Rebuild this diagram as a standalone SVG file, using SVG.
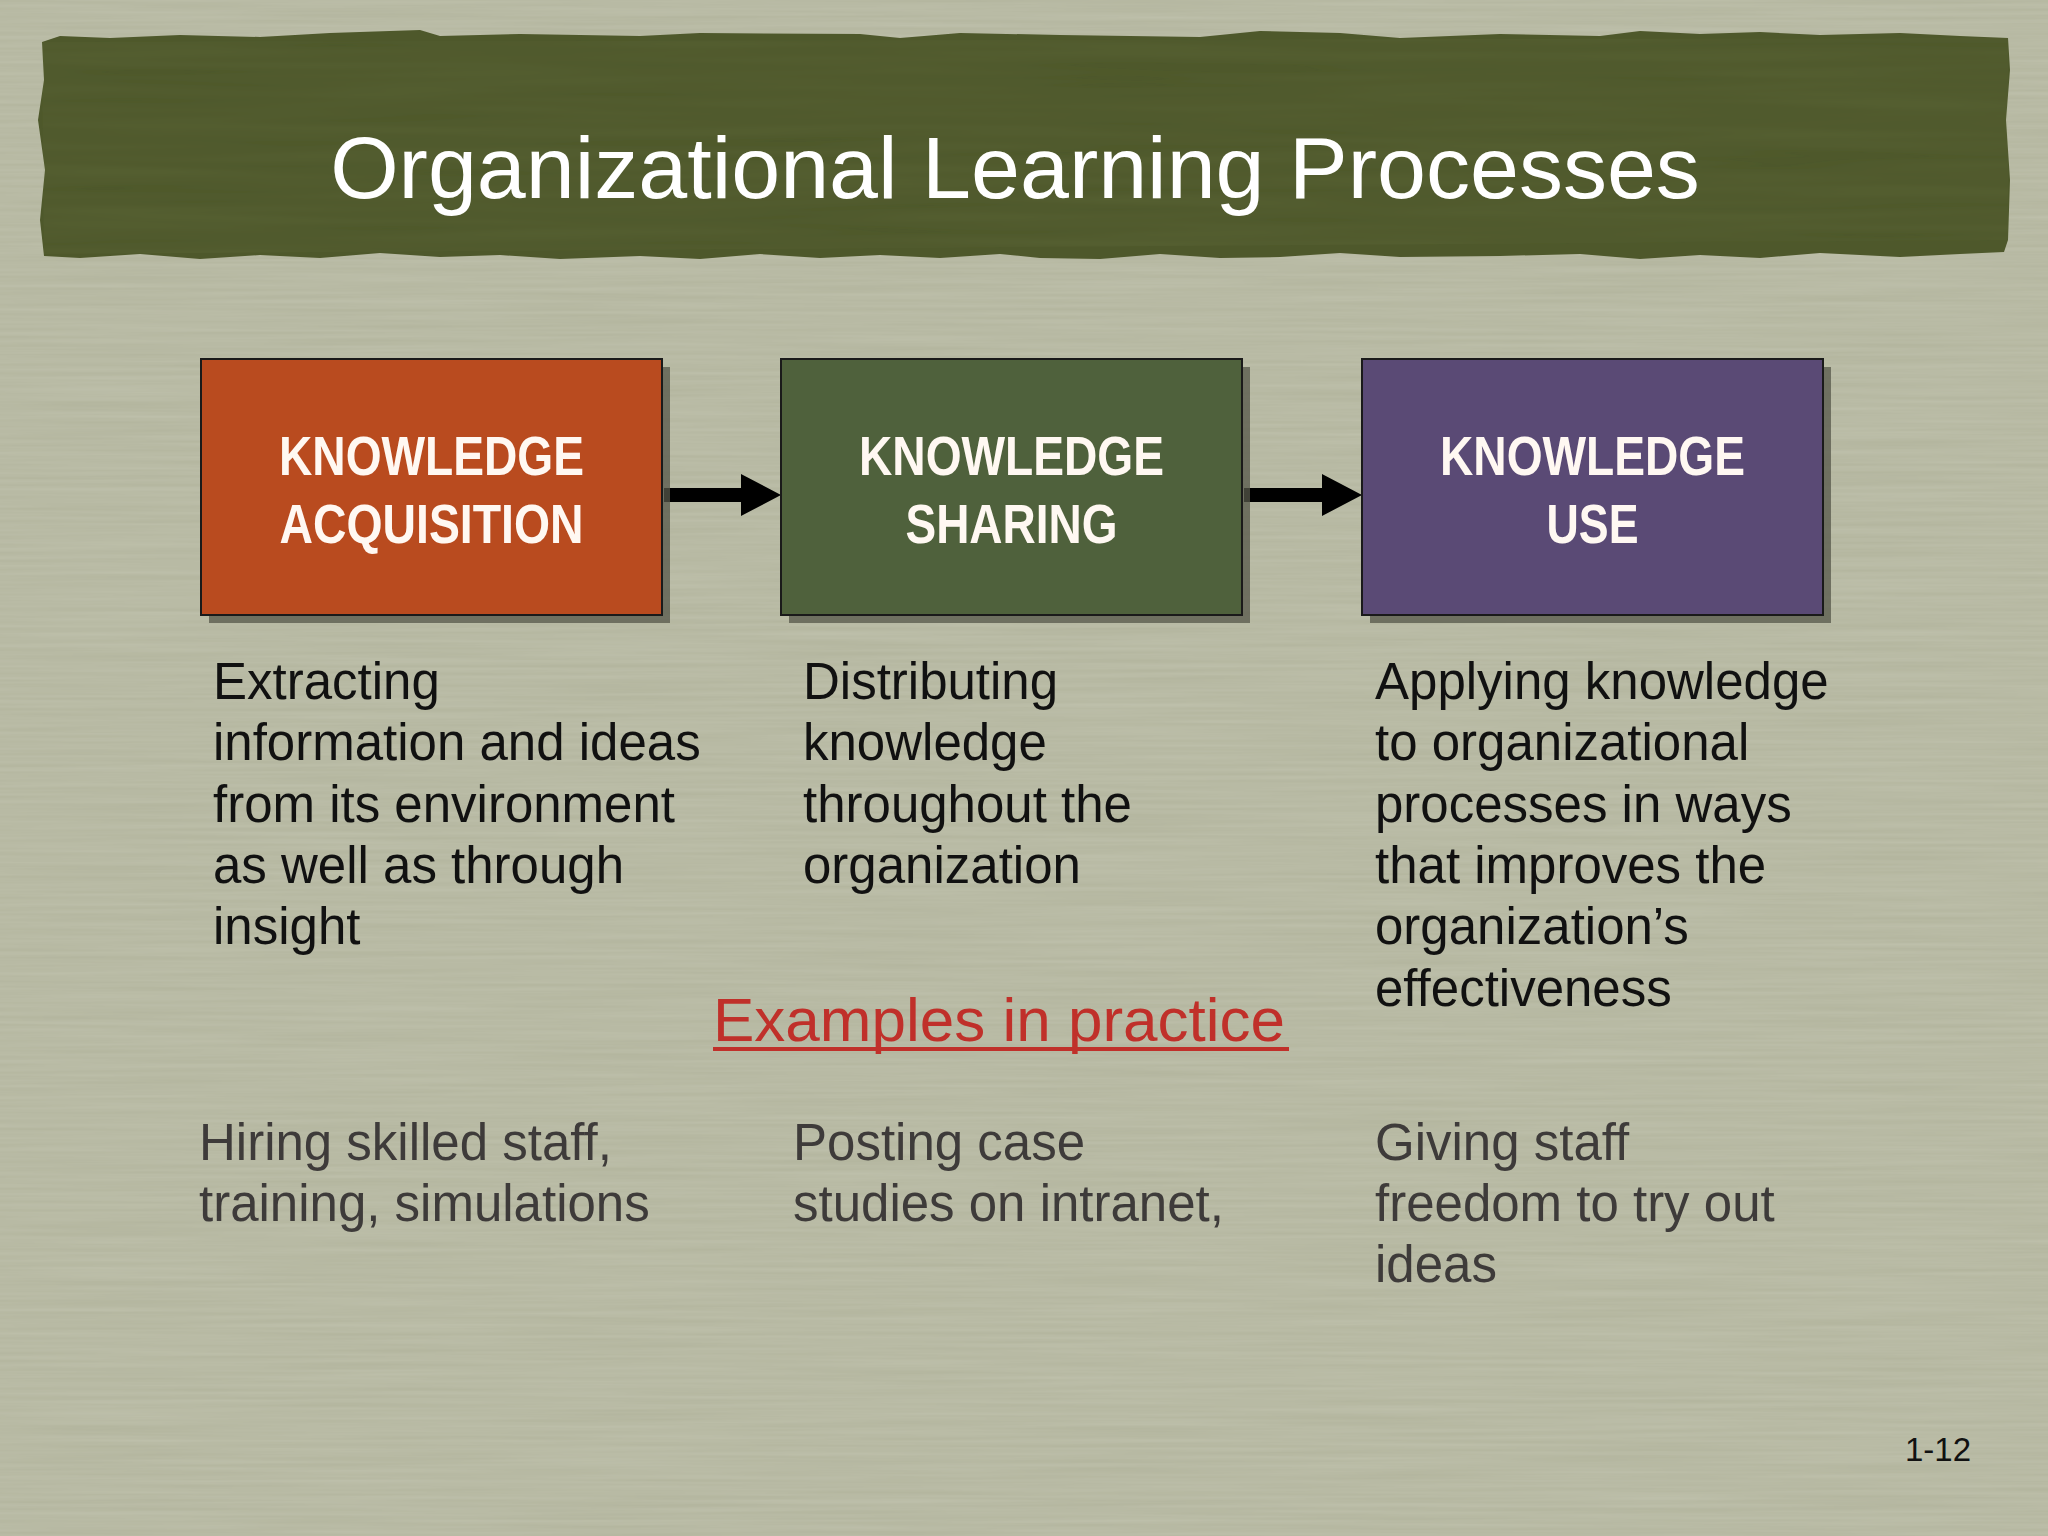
<svg xmlns="http://www.w3.org/2000/svg" width="2048" height="1536" viewBox="0 0 2048 1536">
  <defs>
    <filter id="paper" x="0" y="0" width="100%" height="100%">
      <feTurbulence type="fractalNoise" baseFrequency="0.004 0.25" numOctaves="3" seed="7" result="n"/>
      <feColorMatrix in="n" type="matrix" values="0 0 0 0 0.95  0 0 0 0 0.96  0 0 0 0 0.9  0 0 0 0.18 -0.03"/>
    </filter>
    <filter id="bannerTex" x="0" y="0" width="100%" height="100%">
      <feTurbulence type="fractalNoise" baseFrequency="0.003 0.08" numOctaves="2" seed="3" result="n"/>
      <feColorMatrix in="n" type="matrix" values="0 0 0 0 0.25  0 0 0 0 0.3  0 0 0 0 0.12  0 0 0 0.15 -0.03" result="c"/>
      <feComposite in="c" in2="SourceGraphic" operator="in"/>
    </filter>
    <style>
      .box { stroke: #1a1a1a; stroke-width: 2; }
      .shadow { fill: #55574a; opacity: 0.75; }
      .boxlabel { font-family: "Liberation Sans", Arial, sans-serif; font-weight: bold; font-size: 56px; fill: #FFF8F2; text-anchor: middle; }
      .desc { font-family: "Liberation Sans", Arial, sans-serif; font-size: 51px; fill: #111111; }
      .ex { font-family: "Liberation Sans", Arial, sans-serif; font-size: 51px; fill: #3e3b3a; }
      .arrow { fill: #000000; }
    </style>
  </defs>

  <!-- background -->
  <rect x="0" y="0" width="2048" height="1536" fill="#b4b69f"/>
  <rect x="0" y="0" width="2048" height="1536" filter="url(#paper)"/>

  <!-- title banner -->
  <g id="banner">
    <path id="bannerShape" fill="#4e582b" d="M42,42 L60,36 L110,38 L180,35 L260,37 L330,33 L420,30 L440,36 L520,34 L640,36 L700,33 L860,34 L900,38 L960,33 L1060,35 L1200,37 L1260,31 L1340,33 L1400,38 L1500,34 L1600,36 L1640,31 L1700,34 L1760,32 L1820,35 L1900,33 L1960,36 L2008,38 L2010,70 L2006,120 L2010,180 L2008,240 L2004,252 L1960,254 L1900,257 L1820,253 L1760,258 L1700,255 L1640,259 L1580,254 L1500,256 L1400,257 L1340,253 L1280,257 L1220,258 L1160,254 L1100,259 L1040,258 L1000,254 L940,258 L880,255 L820,258 L760,254 L700,259 L640,256 L560,259 L500,255 L440,257 L380,253 L320,258 L260,255 L200,259 L140,254 L80,258 L44,256 L40,220 L45,170 L38,120 L44,80 Z"/>
    <path fill="#4e582b" filter="url(#bannerTex)" d="M42,42 L2008,38 L2008,240 L44,254 Z"/>
    <text x="1015" y="198" font-family="Liberation Sans, Arial, sans-serif" font-size="88" fill="#ffffff" text-anchor="middle">Organizational Learning Processes</text>
  </g>

  <!-- connectors -->
  <g id="connectors">
    <path class="arrow" d="M664,488 L741,488 L741,474 L781,495 L741,516 L741,502 L664,502 Z"/>
    <path class="arrow" d="M1244,488 L1322,488 L1322,474 L1362,495 L1322,516 L1322,502 L1244,502 Z"/>
  </g>

  <!-- nodes -->
  <g id="node-acquisition">
    <rect class="shadow" x="209" y="367" width="461" height="256"/>
    <rect class="box" x="201" y="359" width="461" height="256" fill="#b94b1f"/>
    <text class="boxlabel" x="431.5" y="475" textLength="305" lengthAdjust="spacingAndGlyphs">KNOWLEDGE</text>
    <text class="boxlabel" x="431.5" y="543" textLength="304" lengthAdjust="spacingAndGlyphs">ACQUISITION</text>
  </g>

  <g id="node-sharing">
    <rect class="shadow" x="789" y="367" width="461" height="256"/>
    <rect class="box" x="781" y="359" width="461" height="256" fill="#4f613c"/>
    <text class="boxlabel" x="1011.5" y="475" textLength="305" lengthAdjust="spacingAndGlyphs">KNOWLEDGE</text>
    <text class="boxlabel" x="1011.5" y="543" textLength="212" lengthAdjust="spacingAndGlyphs">SHARING</text>
  </g>

  <g id="node-use">
    <rect class="shadow" x="1370" y="367" width="461" height="256"/>
    <rect class="box" x="1362" y="359" width="461" height="256" fill="#5a4a75"/>
    <text class="boxlabel" x="1592.5" y="475" textLength="305" lengthAdjust="spacingAndGlyphs">KNOWLEDGE</text>
    <text class="boxlabel" x="1592.5" y="543" textLength="92" lengthAdjust="spacingAndGlyphs">USE</text>
  </g>

  <!-- descriptions -->
  <g id="desc-acquisition">
    <text class="desc" x="213" y="699">Extracting</text>
    <text class="desc" x="213" y="760">information and ideas</text>
    <text class="desc" x="213" y="822">from its environment</text>
    <text class="desc" x="213" y="883">as well as through</text>
    <text class="desc" x="213" y="944">insight</text>
  </g>
  <g id="desc-sharing">
    <text class="desc" x="803" y="699">Distributing</text>
    <text class="desc" x="803" y="760">knowledge</text>
    <text class="desc" x="803" y="822">throughout the</text>
    <text class="desc" x="803" y="883">organization</text>
  </g>
  <g id="desc-use">
    <text class="desc" x="1375" y="699">Applying knowledge</text>
    <text class="desc" x="1375" y="760">to organizational</text>
    <text class="desc" x="1375" y="822">processes in ways</text>
    <text class="desc" x="1375" y="883">that improves the</text>
    <text class="desc" x="1375" y="944">organization’s</text>
    <text class="desc" x="1375" y="1006">effectiveness</text>
  </g>

  <!-- examples heading -->
  <g id="examples-heading">
    <text x="713" y="1041" font-family="Liberation Sans, Arial, sans-serif" font-size="62" fill="#c0302a">Examples in practice</text>
    <rect x="713" y="1047" width="576" height="4" fill="#c0302a"/>
  </g>

  <!-- examples -->
  <g id="ex-acquisition">
    <text class="ex" x="199" y="1160">Hiring skilled staff,</text>
    <text class="ex" x="199" y="1221">training, simulations</text>
  </g>
  <g id="ex-sharing">
    <text class="ex" x="793" y="1160">Posting case</text>
    <text class="ex" x="793" y="1221">studies on intranet,</text>
  </g>
  <g id="ex-use">
    <text class="ex" x="1375" y="1160">Giving staff</text>
    <text class="ex" x="1375" y="1221">freedom to try out</text>
    <text class="ex" x="1375" y="1282">ideas</text>
  </g>

  <text id="page-number" x="1905" y="1461" font-family="Liberation Sans, Arial, sans-serif" font-size="33" fill="#111111">1-12</text>
</svg>
